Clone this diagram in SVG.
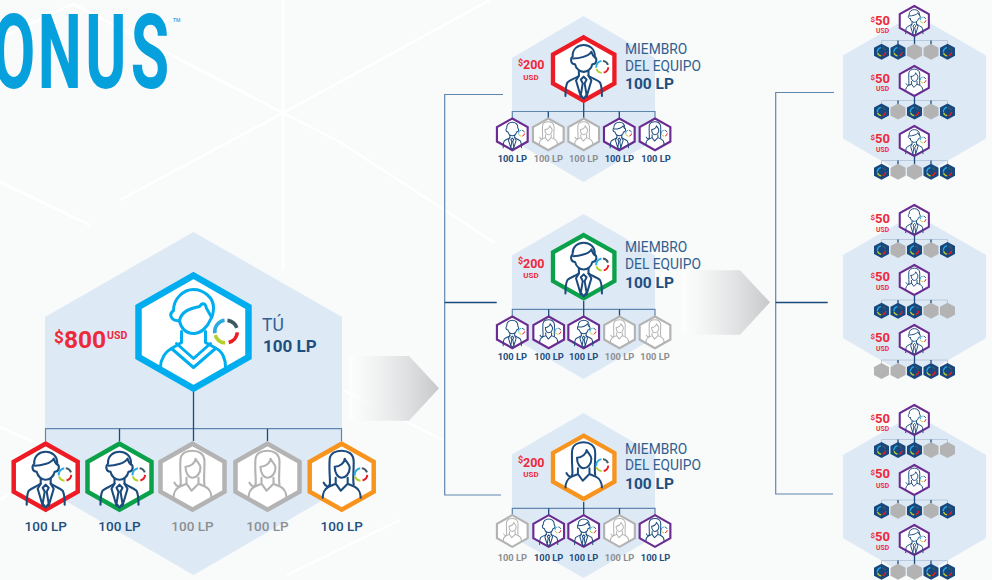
<svg xmlns="http://www.w3.org/2000/svg" width="992" height="580" viewBox="0 0 992 580">
<style>
text{font-family:Roboto,"Liberation Sans",sans-serif}
.bg{fill:#dee9f6}
.wl{stroke:#fff;stroke-width:2.5;fill:none}
.p{fill:none;stroke-linecap:round;stroke-linejoin:round;stroke-width:2.1}
.hx{fill:#fff;stroke:currentColor;stroke-width:4.5}
.red{color:#ed1c24}.grn{color:#0ba14b}.org{color:#f7941d}.pur{color:#6a2c91}.gry{color:#b3b3b3}
.br{fill:none;stroke:#5f86ae;stroke-width:1.2}
.st{fill:none;stroke:#1b4a7d;stroke-width:1.3}
.hb{fill:none;stroke:#5f86ae;stroke-width:1.2}
.hl{fill:none;stroke:#b9c9dc;stroke-width:1}
.a{fill:#ed2a3a;font-weight:700}
.lb{fill:#1f4e7f;font-weight:500;font-size:13.5px;text-anchor:middle}
.lg{fill:#8c8f91;font-weight:500;font-size:13.5px;text-anchor:middle}
.sb{fill:#1f4e7f;font-weight:700;font-size:9.3px;text-anchor:middle}
.sg{fill:#8c8f91;font-weight:700;font-size:9.3px;text-anchor:middle}
.m{fill:#30608f;font-size:13.8px}
.v{fill:#1f4e7f;font-weight:700;font-size:15.5px}
</style>
<defs>
<linearGradient id="ag"><stop offset="0" stop-color="#fff" stop-opacity=".6"/><stop offset="1" stop-color="#c6c8ca"/></linearGradient>
<polygon id="hex" points="0,-33 32,-15 32,15 0,33 -32,15 -32,-15"/>
<g id="ring" fill="none" stroke-width="2">
<path stroke="#29abe2" d="M-6.2,1A6.3,6.3 0 0 1 -.8,-6.2"/>
<path stroke="#3d5a64" d="M.8,-6.2A6.3,6.3 0 0 1 6,-2"/>
<path stroke="#ed1c24" d="M6.3,.5A6.3,6.3 0 0 1 1.5,6.1"/>
<path stroke="#b5cf2b" d="M-.5,6.3A6.3,6.3 0 0 1 -6,2"/>
</g>
<g id="bald" class="p">
<path d="M-9,-5C-14,-5 -14,-11 -11.500,-13C-12,-21 -6,-25 0,-25C6,-25 12,-21 11.500,-13C14,-11 14,-5 9,-5C8,0 4,3 0,3C-4,3 -8,0 -9,-5Z"/>
<path d="M-5,2V7C-9,10 -14,11 -17,14C-19,18 -19,24 -19,28M5,2V7C9,10 14,11 17,14C19,18 19,24 19,28"/>
<path d="M-5,7L-8,12L-3,29M5,7L8,12L3,29M0,8L-3,11L-1,15L-3,27L0,31L3,27L1,15L3,11Z"/>
</g>
<g id="man"><use href="#bald"/><path class="p" d="M-11,-11C-5,-11 5,-13 8,-18C9,-15 10,-13 11.500,-12"/></g>
<g id="woman" class="p">
<path d="M-12,9C-11,4 -13,-5 -12,-18C-11,-24 -5,-26 0,-26C6,-26 12,-23 12,-15C12,-5 11,3 12,8"/>
<path d="M-12,8C-13,11 -16,10 -18,6"/>
<path d="M-7,-10C-2,-10 3,-14 3,-18C5,-14 8,-12 8,-9C8,-3 4,1 0,1C-4,1 -7,-4 -7,-10Z"/>
<path d="M-6,1V7L-13,10C-17,12 -19,17 -19,21M6,1V7L13,10C17,12 19,17 19,21M-6,7L-1,14L6,7"/>
</g>
<g id="M" class="pur"><use href="#hex" class="hx"/><use href="#man" stroke="#1b4a7d"/><use href="#ring" transform="translate(19.3 -2.3)"/></g>
<g id="N" class="pur"><use href="#hex" class="hx"/><use href="#bald" stroke="#1b4a7d"/><use href="#ring" transform="translate(19.3 -2.3)"/></g>
<g id="W" class="pur"><use href="#hex" class="hx"/><use href="#woman" stroke="#1b4a7d"/><use href="#ring" transform="translate(19.3 -2.3)"/></g>
<g id="G" class="gry"><use href="#hex" class="hx"/><use href="#woman" stroke="#b3b3b3"/></g>
<g id="MR" class="red"><use href="#hex" class="hx"/><use href="#man" stroke="#1b4a7d"/><use href="#ring" transform="translate(19.3 -2.3)"/></g>
<g id="MG" class="grn"><use href="#hex" class="hx"/><use href="#man" stroke="#1b4a7d"/><use href="#ring" transform="translate(19.3 -2.3)"/></g>
<g id="WO" class="org"><use href="#hex" class="hx"/><use href="#woman" stroke="#1b4a7d"/><use href="#ring" transform="translate(19.3 -2.3)"/></g>
<polygon id="tk" points="0,-8 7.5,-4 7.5,4 0,8 -7.5,4 -7.5,-4"/>
<g id="D"><use href="#tk" fill="#17477d"/><use href="#ring" transform="scale(.66)"/></g>
<use id="E" href="#tk" fill="#b3b3b3"/>
</defs>
<rect width="992" height="580" fill="#f9fafa"/>
<g id="background-lines">
<path class="wl" d="M0,38L73,4L283,113L120,200M283,113L490,0M283,0V270M283,113L340,142L495,243M0,182L90,225M0,427L67,457M0,500L50,470M287,575L400,520M343,390L443,440"/>
</g>
<g id="logo">
<text transform="translate(0 88) scale(.6 1)" x="-13 63 142 218" y="0" font-size="104" font-weight="700" fill="#06a0dc">ONUS</text>
<text x="172" y="29" font-size="15" fill="#35aee2">™</text>
</g>
<g id="bg-hexes">
<polygon class="bg" points="193.500,232 342,317 342,489 193.500,575 45,489 45,317"/>
<polygon class="bg" points="583.500,16 655,58 655,140 583.500,182 512,140 512,58"/>
<polygon class="bg" points="583.500,214 655,255.500 655,337.500 583.500,379 512,337.500 512,255.500"/>
<polygon class="bg" points="583.500,413 655,454.500 655,536.500 583.500,578 512,536.500 512,454.500"/>
<polygon class="bg" points="914.500,14 986,55.500 986,138.500 914.500,180 843,138.500 843,55.500"/>
<polygon class="bg" points="914.500,214 986,255 986,338 914.500,380 843,338 843,255"/>
<polygon class="bg" points="914.500,414 986,455 986,538 914.500,580 843,538 843,455"/>
</g>
<g id="arrows">
<polygon fill="url(#ag)" points="349,356 409,356 439,388.300 409,420.700 349,420.700"/>
<polygon fill="url(#ag)" points="682,270.300 740,270.300 770,302.300 740,334.700 682,334.700"/>
</g>
<g id="connectors">
<path class="hb" d="M45.500,441V428.700H341.500V441"/>
<path class="st" d="M193.500,391V441M119.500,428.700V441M267.500,428.700V441"/>
<path class="br" d="M503,94.500H444.700V495H501"/>
<path class="st" d="M444.700,302.500H496.700"/>
<path class="br" d="M834,92.500H775.700V494H833"/>
<path class="st" d="M775.700,302.500H827.700"/>
<path class="hb" d="M512.300,118V111.500H655V118M512.300,316V309.300H655V316M512.300,515V508.300H655V515"/>
<path class="st" d="M583.700,103V118M548.300,111.500V118M619.300,111.500V118M583.700,301V316M548.700,309.300V316M619.500,309.300V316M583.700,502V515M548.700,508.300V515M619.500,508.300V515"/>
<path class="hl" d="M881.500,44V40.500H947.500V44M881.500,104V100.500H947.500V104M881.500,164V160.500H947.500V164M881.500,243V239.500H947.500V243M881.500,303V300H947.500V303M881.500,363V360H947.500V363M881.500,443V439.500H947.500V443M881.500,503V500H947.500V503M881.500,564V560.500H947.500V564"/>
<path class="st" d="M914.500,37V44M898,40.500V44M931,40.500V44M914.500,97V104M898,100.500V104M931,100.500V104M914.500,157V164M898,160.500V164M931,160.500V164M914.500,236V243M898,239.500V243M931,239.500V243M914.500,296V303M898,300V303M931,300V303M914.500,356V363M898,360V363M931,360V363M914.500,436V443M898,439.500V443M931,439.500V443M914.500,496V503M898,500V503M931,500V503M914.500,556V564M898,560.500V564M931,560.500V564"/>
</g>
<g id="you">
<polygon points="193.500,275.500 248.500,307 248.500,357 193.500,388.500 138.500,357 138.500,307" fill="#fff" stroke="#00aeef" stroke-width="6.500"/>
<g transform="translate(193.500 331.500)" fill="none" stroke="#00aeef" stroke-width="3" stroke-linecap="round" stroke-linejoin="round">
<path d="M-14,-11C-21,-10 -26,-16 -20,-21C-20,-33 -10,-42 0,-42C10,-42 20,-34 20,-24C20,-20 19,-15 17,-12C14,-4 7,2 0,2C-8,2 -13,-4 -14,-11Z"/>
<path d="M-14,-11C-12,-20 -4,-23 6,-25C8,-28 11,-29 12,-26C13,-22 15,-20 17,-16"/>
<path d="M-12,0V11L-22,17C-28,20 -33,28 -33,35M12,0V11L23,17C29,20 32,28 32,35"/>
<path d="M-17,12L0,27L17,12M-22,17L0,36L22,17"/>
</g>
<use href="#ring" transform="translate(226 331.500) scale(1.800)"/>
<text x="54" y="343" font-size="17" class="a">$</text>
<text x="64" y="348" font-size="24.500" class="a">800</text>
<text x="107" y="339" font-size="10.500" class="a">USD</text>
<text x="262" y="331" font-size="17.500" fill="#30608f">TÚ</text>
<text x="263" y="351.500" font-size="17" font-weight="700" fill="#1f4e7f">100 LP</text>
</g>
<g id="you-1"><use href="#MR" transform="translate(45.700 476.700)"/><text class="lb" x="45.700" y="531">100 LP</text></g>
<g id="you-2"><use href="#MG" transform="translate(119.500 476.700)"/><text class="lb" x="119.500" y="531">100 LP</text></g>
<g id="you-3"><use href="#G" transform="translate(192.500 476.700)"/><text class="lg" x="192.500" y="531">100 LP</text></g>
<g id="you-4"><use href="#G" transform="translate(267.500 476.700)"/><text class="lg" x="267.500" y="531">100 LP</text></g>
<g id="you-5"><use href="#WO" transform="translate(341.700 476.700)"/><text class="lb" x="341.700" y="531">100 LP</text></g>

<g id="team-1">
<use href="#MR" transform="translate(583.700 69) scale(.96)"/>
<text x="518" y="65.500" font-size="9" class="a">$</text><text x="523" y="69" font-size="12.500" class="a">200</text>
<text x="531" y="79.500" font-size="8" class="a" text-anchor="middle">USD</text>
<text class="m" x="625" y="54">MIEMBRO</text><text class="m" x="625" y="71">DEL EQUIPO</text><text class="v" x="625" y="89">100 LP</text>
</g>
<g id="team-2">
<use href="#MG" transform="translate(583.700 266.700) scale(.96)"/>
<text x="518" y="264" font-size="9" class="a">$</text><text x="523" y="267.500" font-size="12.500" class="a">200</text>
<text x="531" y="278" font-size="8" class="a" text-anchor="middle">USD</text>
<text class="m" x="625" y="252">MIEMBRO</text><text class="m" x="625" y="269">DEL EQUIPO</text><text class="v" x="625" y="287.500">100 LP</text>
</g>
<g id="team-3">
<use href="#WO" transform="translate(583.700 467.300) scale(.96)"/>
<text x="518" y="463" font-size="9" class="a">$</text><text x="523" y="466.500" font-size="12.500" class="a">200</text>
<text x="531" y="477" font-size="8" class="a" text-anchor="middle">USD</text>
<text class="m" x="625" y="453.500">MIEMBRO</text><text class="m" x="625" y="470">DEL EQUIPO</text><text class="v" x="625" y="489">100 LP</text>
</g>

<g id="t1-1"><use href="#N" transform="translate(512.300 134.300) scale(.48)"/><text class="sb" x="512.300" y="161.700">100 LP</text></g>
<g id="t1-2"><use href="#G" transform="translate(548.300 134.300) scale(.48)"/><text class="sg" x="548.300" y="161.700">100 LP</text></g>
<g id="t1-3"><use href="#G" transform="translate(583.700 134.300) scale(.48)"/><text class="sg" x="583.700" y="161.700">100 LP</text></g>
<g id="t1-4"><use href="#M" transform="translate(619.300 134.300) scale(.48)"/><text class="sb" x="619.300" y="161.700">100 LP</text></g>
<g id="t1-5"><use href="#W" transform="translate(655 134.300) scale(.48)"/><text class="sb" x="656" y="161.700">100 LP</text></g>

<g id="t2-1"><use href="#N" transform="translate(512.300 332.300) scale(.48)"/><text class="sb" x="512.300" y="359.500">100 LP</text></g>
<g id="t2-2"><use href="#W" transform="translate(548.700 332.300) scale(.48)"/><text class="sb" x="549" y="359.500">100 LP</text></g>
<g id="t2-3"><use href="#M" transform="translate(583.700 332.300) scale(.48)"/><text class="sb" x="583.700" y="359.500">100 LP</text></g>
<g id="t2-4"><use href="#G" transform="translate(619.500 332.300) scale(.48)"/><text class="sg" x="619.500" y="359.500">100 LP</text></g>
<g id="t2-5"><use href="#G" transform="translate(655 332.300) scale(.48)"/><text class="sg" x="655" y="359.500">100 LP</text></g>

<g id="t3-1"><use href="#G" transform="translate(512.300 531) scale(.48)"/><text class="sg" x="512.300" y="560.500">100 LP</text></g>
<g id="t3-2"><use href="#N" transform="translate(548.700 531) scale(.48)"/><text class="sb" x="548.700" y="560.500">100 LP</text></g>
<g id="t3-3"><use href="#M" transform="translate(583.700 531) scale(.48)"/><text class="sb" x="583.700" y="560.500">100 LP</text></g>
<g id="t3-4"><use href="#G" transform="translate(619.500 531) scale(.48)"/><text class="sg" x="619.500" y="560.500">100 LP</text></g>
<g id="t3-5"><use href="#W" transform="translate(655 531) scale(.48)"/><text class="sb" x="655.500" y="560.500">100 LP</text></g>

<g id="r1-a"><use href="#M" transform="translate(914.300 21) scale(.455)"/><text x="870.500" y="22" font-size="8" class="a">$</text><text x="875" y="25.300" font-size="13" class="a">50</text><text x="876" y="32.700" font-size="6.800" class="a">USD</text></g>
<g id="r1-b"><use href="#W" transform="translate(914.300 81) scale(.455)"/><text x="870.500" y="79.500" font-size="8" class="a">$</text><text x="875" y="82.700" font-size="13" class="a">50</text><text x="876" y="90.700" font-size="6.800" class="a">USD</text></g>
<g id="r1-c"><use href="#M" transform="translate(914.300 141) scale(.455)"/><text x="870.500" y="140" font-size="8" class="a">$</text><text x="875" y="143.300" font-size="13" class="a">50</text><text x="876" y="151.700" font-size="6.800" class="a">USD</text></g>
<g id="r2-a"><use href="#N" transform="translate(914.300 220) scale(.455)"/><text x="870.500" y="219.700" font-size="8" class="a">$</text><text x="875" y="223" font-size="13" class="a">50</text><text x="876" y="231.700" font-size="6.800" class="a">USD</text></g>
<g id="r2-b"><use href="#W" transform="translate(914.300 280) scale(.455)"/><text x="870.500" y="277.700" font-size="8" class="a">$</text><text x="875" y="281" font-size="13" class="a">50</text><text x="876" y="289.700" font-size="6.800" class="a">USD</text></g>
<g id="r2-c"><use href="#M" transform="translate(914.300 340) scale(.455)"/><text x="870.500" y="338.700" font-size="8" class="a">$</text><text x="875" y="342" font-size="13" class="a">50</text><text x="876" y="350.700" font-size="6.800" class="a">USD</text></g>
<g id="r3-a"><use href="#N" transform="translate(914.300 420) scale(.455)"/><text x="870.500" y="419.500" font-size="8" class="a">$</text><text x="875" y="422.700" font-size="13" class="a">50</text><text x="876" y="430.700" font-size="6.800" class="a">USD</text></g>
<g id="r3-b"><use href="#W" transform="translate(914.300 480) scale(.455)"/><text x="870.500" y="475" font-size="8" class="a">$</text><text x="875" y="478.300" font-size="13" class="a">50</text><text x="876" y="488.300" font-size="6.800" class="a">USD</text></g>
<g id="r3-c"><use href="#M" transform="translate(914.300 540) scale(.455)"/><text x="870.500" y="537.500" font-size="8" class="a">$</text><text x="875" y="540.700" font-size="13" class="a">50</text><text x="876" y="549.700" font-size="6.800" class="a">USD</text></g>

<g id="r1a1"><use href="#D" x="881.500" y="51.700"/></g><g id="r1a2"><use href="#D" x="898" y="51.700"/></g><g id="r1a3"><use href="#E" x="914.500" y="51.700"/></g><g id="r1a4"><use href="#E" x="931" y="51.700"/></g><g id="r1a5"><use href="#D" x="947.500" y="51.700"/></g>
<g id="r1b1"><use href="#D" x="881.500" y="111.500"/></g><g id="r1b2"><use href="#E" x="898" y="111.500"/></g><g id="r1b3"><use href="#D" x="914.500" y="111.500"/></g><g id="r1b4"><use href="#E" x="931" y="111.500"/></g><g id="r1b5"><use href="#D" x="947.500" y="111.500"/></g>
<g id="r1c1"><use href="#D" x="881.500" y="171.700"/></g><g id="r1c2"><use href="#E" x="898" y="171.700"/></g><g id="r1c3"><use href="#E" x="914.500" y="171.700"/></g><g id="r1c4"><use href="#D" x="931" y="171.700"/></g><g id="r1c5"><use href="#D" x="947.500" y="171.700"/></g>
<g id="r2a1"><use href="#D" x="881.500" y="250"/></g><g id="r2a2"><use href="#E" x="898" y="250"/></g><g id="r2a3"><use href="#D" x="914.500" y="250"/></g><g id="r2a4"><use href="#E" x="931" y="250"/></g><g id="r2a5"><use href="#D" x="947.500" y="250"/></g>
<g id="r2b1"><use href="#D" x="881.500" y="310.700"/></g><g id="r2b2"><use href="#D" x="898" y="310.700"/></g><g id="r2b3"><use href="#D" x="914.500" y="310.700"/></g><g id="r2b4"><use href="#E" x="931" y="310.700"/></g><g id="r2b5"><use href="#E" x="947.500" y="310.700"/></g>
<g id="r2c1"><use href="#E" x="881.500" y="371"/></g><g id="r2c2"><use href="#E" x="898" y="371"/></g><g id="r2c3"><use href="#D" x="914.500" y="371"/></g><g id="r2c4"><use href="#D" x="931" y="371"/></g><g id="r2c5"><use href="#D" x="947.500" y="371"/></g>
<g id="r3a1"><use href="#D" x="881.500" y="450"/></g><g id="r3a2"><use href="#D" x="898" y="450"/></g><g id="r3a3"><use href="#D" x="914.500" y="450"/></g><g id="r3a4"><use href="#E" x="931" y="450"/></g><g id="r3a5"><use href="#E" x="947.500" y="450"/></g>
<g id="r3b1"><use href="#D" x="881.500" y="510.700"/></g><g id="r3b2"><use href="#E" x="898" y="510.700"/></g><g id="r3b3"><use href="#D" x="914.500" y="510.700"/></g><g id="r3b4"><use href="#E" x="931" y="510.700"/></g><g id="r3b5"><use href="#D" x="947.500" y="510.700"/></g>
<g id="r3c1"><use href="#D" x="881.500" y="571.700"/></g><g id="r3c2"><use href="#E" x="898" y="571.700"/></g><g id="r3c3"><use href="#E" x="914.500" y="571.700"/></g><g id="r3c4"><use href="#D" x="931" y="571.700"/></g><g id="r3c5"><use href="#D" x="947.500" y="571.700"/></g>
</svg>
